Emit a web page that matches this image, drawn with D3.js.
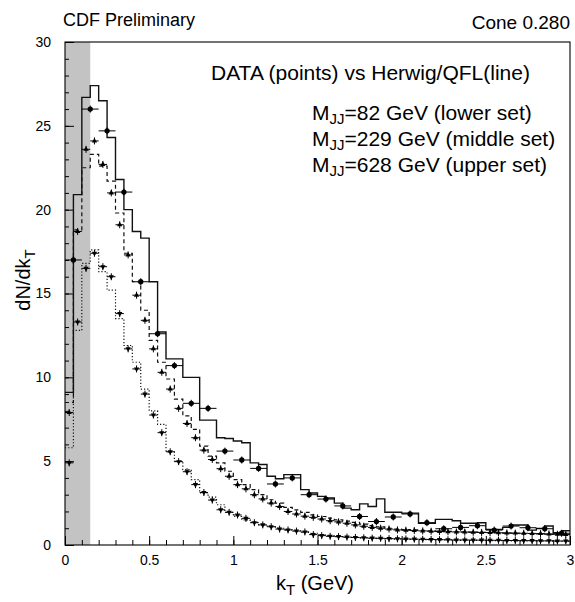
<!DOCTYPE html>
<html>
<head>
<meta charset="utf-8">
<script src="https://cdn.jsdelivr.net/npm/d3@7"></script>
<style>
  body { margin: 0; background: #fff; }
  svg { font-family: 'Liberation Sans', Arial, sans-serif; }
</style>
</head>
<body>
<svg id="chart" width="575" height="602"></svg>
<script>
// histogram bins are 0.05 GeV wide, starting at kT = 0
const binWidth = 0.05;

// Herwig/QFL histograms (one value per 0.05 bin)
const upperMC = [
  9.1, 20.9, 26.7, 27.4, 26.5, 24.3, 21.8, 20.0, 18.7, 18.3,
  15.7, 12.7, 11.1, 11.1, 10.0, 10.0, 7.45, 7.45, 6.4, 6.35,
  6.2, 6.1, 4.9, 4.8, 4.1, 3.95, 4.2, 4.2, 3.3, 3.1,
  2.9, 2.8, 2.5, 2.2, 2.1, 2.45, 2.3, 2.75, 1.95, 1.95,
  1.9, 1.9, 1.3, 1.3, 1.53, 1.53, 1.45, 1.3, 1.3, 1.33,
  0.93, 0.93, 1.05, 1.19, 1.19, 0.89, 0.99, 1.13, 0.73, 0.85
];
const middleMC = [
  8.5, 18.8, 22.5, 23.3, 22.6, 21.7, 19.8, 17.4, 15.7, 14.0,
  12.2, 10.9, 9.9, 8.7, 7.7, 6.9, 5.9, 5.3, 4.9, 4.4,
  3.9, 3.6, 3.3, 3.0, 2.7, 2.5, 2.25, 2.1, 1.95, 1.8,
  1.7, 1.6, 1.5, 1.42, 1.35, 1.25, 1.15, 1.08, 1.0, 0.95,
  0.92, 0.9, 0.87, 0.85, 0.83, 0.81, 0.8, 0.78, 0.77, 0.75,
  0.74, 0.72, 0.71, 0.7, 0.68, 0.67, 0.66, 0.64, 0.63, 0.6
];
const lowerMC = [
  5.8, 12.8, 16.8, 17.6, 16.3, 15.2, 13.5, 11.9, 10.9, 9.3,
  8.0, 7.2, 5.56, 5.0, 4.5, 3.9, 3.1, 2.85, 2.4, 1.95,
  1.7, 1.5, 1.35, 1.2, 1.1, 1.0, 0.9, 0.85, 0.75, 0.7,
  0.6, 0.55, 0.5, 0.45, 0.45, 0.42, 0.4, 0.38, 0.36, 0.35,
  0.34, 0.33, 0.32, 0.31, 0.3, 0.3, 0.29, 0.28, 0.28, 0.27,
  0.26, 0.26, 0.25, 0.25, 0.24, 0.24, 0.23, 0.23, 0.22, 0.22
];

// DATA points
// upper set: 0.1 wide bins, centres 0.05, 0.15, ...
const upperDataX = [
  0.05, 0.15, 0.25, 0.35, 0.45, 0.55, 0.65, 0.75, 0.85, 0.95,
  1.05, 1.15, 1.25, 1.35, 1.45, 1.55, 1.65, 1.75, 1.85, 1.95,
  2.05, 2.15, 2.25, 2.35, 2.45, 2.55, 2.65, 2.75, 2.85, 2.95
];
const upperData = [
  17.0, 26.0, 24.7, 21.05, 15.7, 12.6, 10.7, 8.45, 8.15, 5.6,
  5.07, 4.57, 3.64, 4.0, 3.0, 2.74, 2.33, 1.7, 1.4, 1.67,
  1.85, 1.33, 0.97, 1.05, 1.15, 0.89, 1.13, 1.03, 0.97, 0.7
];
// middle and lower sets: one point per 0.05 bin
const middleData = [
  7.9, 18.7, 23.6, 24.1, 22.7, 21.0, 19.1, 17.3, 14.9, 13.4,
  11.7, 10.3, 9.3, 8.15, 7.25, 6.4, 5.66, 5.1, 4.55, 4.1,
  3.6, 3.35, 3.0, 2.75, 2.5, 2.3, 2.0, 1.85, 1.72, 1.65,
  1.55, 1.45, 1.38, 1.3, 1.2, 1.12, 1.05, 1.0, 0.95, 0.9,
  0.88, 0.86, 0.84, 0.82, 0.8, 0.79, 0.78, 0.77, 0.76, 0.75,
  0.74, 0.73, 0.72, 0.71, 0.7, 0.69, 0.68, 0.66, 0.64, 0.62
];
const lowerData = [
  4.9, 13.3, 16.5, 17.4, 16.6, 16.0, 13.8, 11.7, 10.5, 9.0,
  7.75, 6.7, 5.56, 4.97, 4.37, 3.6, 3.13, 2.68, 2.1, 1.95,
  1.79, 1.59, 1.33, 1.2, 1.09, 0.95, 0.9, 0.83, 0.78, 0.62,
  0.56, 0.52, 0.5, 0.47, 0.45, 0.43, 0.41, 0.4, 0.38, 0.37,
  0.36, 0.35, 0.34, 0.33, 0.32, 0.31, 0.3, 0.3, 0.29, 0.29,
  0.28, 0.28, 0.27, 0.27, 0.26, 0.26, 0.25, 0.25, 0.24, 0.24
];

// shaded region at low kT
const shadeRange = [0, 0.15];

const yMajor = [0, 5, 10, 15, 20, 25, 30];
const xMajor = [0, 0.5, 1, 1.5, 2, 2.5, 3];

const legendLines = [
  { mass: '=82 GeV (lower set)' },
  { mass: '=229 GeV (middle set)' },
  { mass: '=628 GeV (upper set)' }
];

const margin = { left: 65, right: 5, top: 42, bottom: 57 };
const width = 575;
const height = 602;

const svg = d3.select('#chart');

const x = d3
  .scaleLinear()
  .domain([0, 3])
  .range([margin.left, width - margin.right]);
const y = d3
  .scaleLinear()
  .domain([0, 30])
  .range([height - margin.bottom, margin.top]);

svg
  .append('defs')
  .append('clipPath')
  .attr('id', 'plot-clip')
  .append('rect')
  .attr('x', x(0))
  .attr('y', y(30))
  .attr('width', x(3) - x(0))
  .attr('height', y(0) - y(30));

svg
  .append('rect')
  .attr('x', x(shadeRange[0]))
  .attr('y', y(30))
  .attr('width', x(shadeRange[1]) - x(shadeRange[0]))
  .attr('height', y(0) - y(30))
  .attr('fill', '#c3c3c3');

// axes, ticks pointing into the frame
const yAxisMinor = d3
  .axisLeft(y)
  .tickValues(d3.range(0, 31, 1))
  .tickSize(-4)
  .tickFormat('');
const yAxis = d3
  .axisLeft(y)
  .tickValues(yMajor)
  .tickSize(-9)
  .tickPadding(14)
  .tickFormat(d3.format('~g'));
const xAxisMinor = d3
  .axisBottom(x)
  .tickValues(d3.range(0, 31, 1).map((d) => d / 10))
  .tickSize(-5)
  .tickFormat('');
const xAxis = d3
  .axisBottom(x)
  .tickValues(xMajor)
  .tickSize(-9)
  .tickPadding(10)
  .tickFormat(d3.format('~g'));

[
  [yAxisMinor, 'translate(' + x(0) + ',0)'],
  [yAxis, 'translate(' + x(0) + ',0)'],
  [xAxisMinor, 'translate(0,' + y(0) + ')'],
  [xAxis, 'translate(0,' + y(0) + ')'],
].forEach(([axis, transform]) => {
  let g = svg.append('g').attr('transform', transform).call(axis);
  g.select('.domain').remove();
  g.selectAll('line').attr('stroke', '#000');
  g.selectAll('text')
    .attr('fill', '#000')
    .attr('font-size', 14)
    .attr('font-family', "'Liberation Sans', Arial, sans-serif");
});

svg
  .append('rect')
  .attr('x', x(0))
  .attr('y', y(30))
  .attr('width', x(3) - x(0))
  .attr('height', y(0) - y(30))
  .attr('fill', 'none')
  .attr('stroke', '#000')
  .attr('stroke-width', 1.1);

// MC histograms as step lines
function stepPath(values) {
  let pts = values.map((v, i) => [i * binWidth, v]);
  pts.push([values.length * binWidth, values[values.length - 1]]);
  return d3
    .line()
    .x((d) => x(d[0]))
    .y((d) => y(d[1]))
    .curve(d3.curveStepAfter)(pts);
}

const plot = svg.append('g').attr('clip-path', 'url(#plot-clip)');

const histos = [
  { values: upperMC, dash: null, w: 1.4 },
  { values: middleMC, dash: '4,3', w: 1.2 },
  { values: lowerMC, dash: '1.2,2', w: 1.2 },
];
plot
  .selectAll('path.mc')
  .data(histos)
  .join('path')
  .classed('mc', true)
  .attr('d', (d) => stepPath(d.values))
  .attr('fill', 'none')
  .attr('stroke', '#111')
  .attr('stroke-width', (d) => d.w)
  .attr('stroke-dasharray', (d) => d.dash);

// data points with bin-width horizontal bars
function drawPoints(xs, values, halfWidth, symbol, size, rotate) {
  let g = plot
    .append('g')
    .selectAll('g')
    .data(values.map((v, i) => ({ x: xs[i], v: v })))
    .join('g')
    .attr('transform', (d) => 'translate(' + x(d.x) + ',' + y(d.v) + ')');
  g.append('line')
    .attr('x1', (d) => x(d.x - halfWidth) - x(d.x))
    .attr('x2', (d) => x(d.x + halfWidth) - x(d.x))
    .attr('stroke', '#000')
    .attr('stroke-width', 1);
  g.append('line')
    .attr('y1', -3.5)
    .attr('y2', 3.5)
    .attr('stroke', '#000')
    .attr('stroke-width', 1);
  g.append('path')
    .attr('d', d3.symbol().type(symbol).size(size))
    .attr('transform', rotate ? 'rotate(180)' : null)
    .attr('fill', '#000');
}

const binCentres = middleData.map((d, i) => i * binWidth + binWidth / 2);
drawPoints(upperDataX, upperData, 0.05, d3.symbolCircle, 22, false);
drawPoints(binCentres, middleData, 0.025, d3.symbolTriangle, 12, false);
drawPoints(binCentres, lowerData, 0.025, d3.symbolTriangle, 12, true);

// texts
svg
  .append('text')
  .attr('x', 63)
  .attr('y', 26)
  .attr('font-size', 18)
  .text('CDF Preliminary');
svg
  .append('text')
  .attr('x', 570)
  .attr('y', 29)
  .attr('text-anchor', 'end')
  .attr('font-size', 19)
  .text('Cone 0.280');
svg
  .append('text')
  .attr('x', 211)
  .attr('y', 80)
  .attr('font-size', 21)
  .text('DATA (points) vs Herwig/QFL(line)');

const legend = svg
  .selectAll('text.legend')
  .data(legendLines)
  .join('text')
  .classed('legend', true)
  .attr('x', 312)
  .attr('y', (d, i) => 120 + i * 26)
  .attr('font-size', 21);
legend.append('tspan').text('M');
legend
  .append('tspan')
  .attr('dy', 4)
  .attr('font-size', 15)
  .text('JJ');
legend
  .append('tspan')
  .attr('dy', -4)
  .text((d) => d.mass);

const yTitle = svg
  .append('text')
  .attr('transform', 'translate(30,280) rotate(-90)')
  .attr('text-anchor', 'middle')
  .attr('font-size', 20);
yTitle.append('tspan').text('dN/dk');
yTitle.append('tspan').attr('dy', 5).attr('font-size', 15).text('T');

const xTitle = svg
  .append('text')
  .attr('x', 315)
  .attr('y', 590)
  .attr('text-anchor', 'middle')
  .attr('font-size', 20);
xTitle.append('tspan').text('k');
xTitle.append('tspan').attr('dy', 5).attr('font-size', 15).text('T');
xTitle.append('tspan').attr('dy', -5).text(' (GeV)');
</script>
</body>
</html>
